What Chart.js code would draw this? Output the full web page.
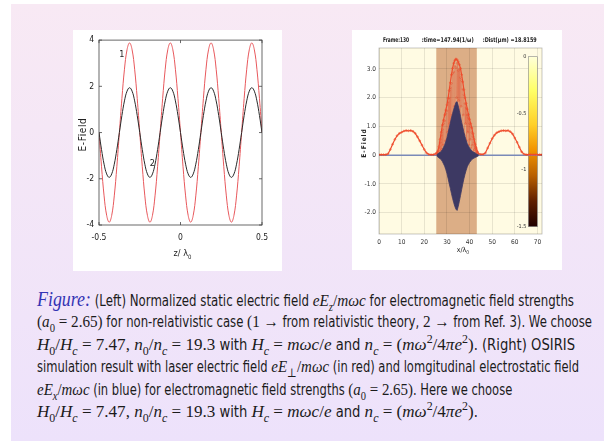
<!DOCTYPE html>
<html>
<head>
<meta charset="utf-8">
<script src="https://cdn.jsdelivr.net/npm/chart.js@4.4.1/dist/chart.umd.min.js"></script>
<style>
html, body { margin: 0; padding: 0; background: #fff; width: 604px; height: 441px; overflow: hidden; }
#slide { position: absolute; left: 11px; top: 4px; width: 593px; height: 437px; background: linear-gradient(#f8e9f4, #ede2fb); }
.panel { position: absolute; background: #fff; }
.panel canvas { position: absolute; left: 0; top: 0; }
#leftPanel { left: 73px; top: 30px; width: 209px; height: 241px; }
#rightPanel { left: 352px; top: 30px; width: 210px; height: 240px; }
.line { position: absolute; left: 37px; height: 20px; line-height: 20px; white-space: nowrap; font-family: 'Liberation Sans Narrow', 'DejaVu Sans Condensed', sans-serif; font-size: 15px; color: #1b1b1b; transform-origin: 0 50%; }
.m { font-family: 'Liberation Serif', 'DejaVu Serif', serif; font-size: 17.5px; }
.fig { font-family: 'Liberation Serif', 'DejaVu Serif', serif; font-style: italic; color: #3434b4; font-size: 20.5px; }
sub, sup { font-size: 70%; line-height: 0; }
</style>
</head>
<body>
<div id="slide"></div>
<div class="panel" id="leftPanel"><canvas id="leftChart" width="209" height="241"></canvas></div>
<div class="panel" id="rightPanel"><canvas id="rightChart" width="210" height="240"></canvas></div>

<div class="line" data-w="537" style="top:289px"><span class="fig">Figure:</span> (Left) Normalized static electric field <span class="m"><i>eE</i><sub><i>z</i></sub>/<i>mωc</i></span> for electromagnetic field strengths</div>
<div class="line" data-w="555" style="top:311px"><span class="m">(<i>a</i><sub>0</sub> = 2.65)</span> for non-relativistic case <span class="m">(1 →</span> from relativistic theory, <span class="m">2 →</span> from Ref. 3). We choose</div>
<div class="line" data-w="538" style="top:334px"><span class="m"><i>H</i><sub>0</sub>/<i>H</i><sub><i>c</i></sub> = 7.47, <i>n</i><sub>0</sub>/<i>n</i><sub><i>c</i></sub> = 19.3</span> with <span class="m"><i>H</i><sub><i>c</i></sub> = <i>mωc</i>/<i>e</i></span> and <span class="m"><i>n</i><sub><i>c</i></sub> = (<i>mω</i><sup>2</sup>/4<i>πe</i><sup>2</sup>)</span>. (Right) OSIRIS</div>
<div class="line" data-w="542" style="top:356px">simulation result with laser electric field <span class="m"><i>eE</i><sub>⊥</sub>/<i>mωc</i></span> (in red) and lomgitudinal electrostatic field</div>
<div class="line" data-ref="3" style="top:379px"><span class="m"><i>eE</i><sub><i>x</i></sub>/<i>mωc</i></span> (in blue) for electromagnetic field strengths <span class="m">(<i>a</i><sub>0</sub> = 2.65)</span>. Here we choose</div>
<div class="line" data-ref="2" style="top:401px"><span class="m"><i>H</i><sub>0</sub>/<i>H</i><sub><i>c</i></sub> = 7.47, <i>n</i><sub>0</sub>/<i>n</i><sub><i>c</i></sub> = 19.3</span> with <span class="m"><i>H</i><sub><i>c</i></sub> = <i>mωc</i>/<i>e</i></span> and <span class="m"><i>n</i><sub><i>c</i></sub> = (<i>mω</i><sup>2</sup>/4<i>πe</i><sup>2</sup>)</span>.</div>

<script>
// left plot: static field, curve 1 (red) and curve 2 (black)
const leftX = [-0.5, -0.4844, -0.4688, -0.4531, -0.4375, -0.4219, -0.4063, -0.3906, -0.375, -0.3594, -0.3438, -0.3281, -0.3125, -0.2969, -0.2813, -0.2656,
  -0.25, -0.2344, -0.2188, -0.2031, -0.1875, -0.1719, -0.1563, -0.1406, -0.125, -0.1094, -0.0938, -0.0781, -0.0625, -0.0469, -0.0313, -0.0156,
  0, 0.0156, 0.0313, 0.0469, 0.0625, 0.0781, 0.0938, 0.1094, 0.125, 0.1406, 0.1563, 0.1719, 0.1875, 0.2031, 0.2188, 0.2344,
  0.25, 0.2656, 0.2813, 0.2969, 0.3125, 0.3281, 0.3438, 0.3594, 0.375, 0.3906, 0.4063, 0.4219, 0.4375, 0.4531, 0.4688, 0.4844, 0.5];
const leftRed = [0, -1.48, -2.74, -3.58, -3.88, -3.58, -2.74, -1.48, 0, 1.48, 2.74, 3.58, 3.88, 3.58, 2.74, 1.48,
  0, -1.48, -2.74, -3.58, -3.88, -3.58, -2.74, -1.48, 0, 1.48, 2.74, 3.58, 3.88, 3.58, 2.74, 1.48,
  0, -1.48, -2.74, -3.58, -3.88, -3.58, -2.74, -1.48, 0, 1.48, 2.74, 3.58, 3.88, 3.58, 2.74, 1.48,
  0, -1.48, -2.74, -3.58, -3.88, -3.58, -2.74, -1.48, 0, 1.48, 2.74, 3.58, 3.88, 3.58, 2.74, 1.48, 0];
const leftBlack = [0, -0.74, -1.37, -1.79, -1.94, -1.79, -1.37, -0.74, 0, 0.74, 1.37, 1.79, 1.94, 1.79, 1.37, 0.74,
  0, -0.74, -1.37, -1.79, -1.94, -1.79, -1.37, -0.74, 0, 0.74, 1.37, 1.79, 1.94, 1.79, 1.37, 0.74,
  0, -0.74, -1.37, -1.79, -1.94, -1.79, -1.37, -0.74, 0, 0.74, 1.37, 1.79, 1.94, 1.79, 1.37, 0.74,
  0, -0.74, -1.37, -1.79, -1.94, -1.79, -1.37, -0.74, 0, 0.74, 1.37, 1.79, 1.94, 1.79, 1.37, 0.74, 0];
const leftXTicks = [-0.5, 0, 0.5];
const leftYTicks = [-4, -2, 0, 2, 4];
const curveLabels = ['1', '2'];
const curveLabelX = [-0.36, -0.173];
const curveLabelY = [3.36, -1.36];

// right plot: OSIRIS snapshot
const redX = [0, 1, 2, 3, 4, 5, 6, 7, 8, 9, 10, 11, 12, 13, 14, 15, 16, 17, 18, 19, 20, 21, 22, 23, 24,
  25, 25.5, 26, 26.5, 27, 27.5, 28, 28.5, 29, 29.5, 30, 30.5, 31, 31.5, 32, 32.5, 33, 33.5, 34, 34.5,
  35, 35.5, 36, 36.5, 37, 37.5, 38, 38.5, 39, 39.5, 40, 40.5, 41, 41.5, 42, 42.5, 43, 43.5, 44,
  45, 46, 47, 48, 49, 50, 51, 52, 53, 54, 55, 56, 57, 58, 59, 60, 61, 62, 63, 64, 65, 66, 67, 68, 69, 70, 71, 72];
const redY = [0.02, 0.02, 0.02, 0.02, 0.05, 0.2, 0.38, 0.55, 0.68, 0.76, 0.8, 0.84, 0.86, 0.85, 0.86, 0.83, 0.76, 0.64, 0.5, 0.35, 0.2, 0.08, 0.03, 0.02, 0.02,
  0.05, 0.08, 0.15, 0.3, 0.55, 0.8, 1.05, 1.22, 1.4, 1.57, 1.75, 1.98, 2.25, 2.52, 2.8, 3.02, 3.2, 3.3, 3.35, 3.32,
  3.25, 3.15, 3.02, 2.8, 2.55, 2.28, 2.0, 1.8, 1.6, 1.42, 1.25, 1.1, 0.95, 0.75, 0.55, 0.38, 0.25, 0.12, 0.05,
  0.03, 0.03, 0.08, 0.25, 0.42, 0.58, 0.7, 0.78, 0.82, 0.85, 0.86, 0.85, 0.86, 0.82, 0.74, 0.6, 0.45, 0.28, 0.12, 0.04, 0.02, 0.02, 0.02, 0.02, 0.02, 0.02, 0.02, 0.02];
const redInnerX = [25.5, 25.75, 26, 26.25, 26.5, 26.75, 27, 27.25, 27.5, 27.75, 28, 28.25, 28.5, 28.75, 29, 29.25, 29.5, 29.75,
  30, 30.25, 30.5, 30.75, 31, 31.25, 31.5, 31.75, 32, 32.25, 32.5, 32.75, 33, 33.25, 33.5, 33.75, 34, 34.25, 34.5, 34.75,
  35, 35.25, 35.5, 35.75, 36, 36.25, 36.5, 36.75, 37, 37.25, 37.5, 37.75, 38, 38.25, 38.5, 38.75, 39, 39.25, 39.5, 39.75,
  40, 40.25, 40.5, 40.75, 41, 41.25, 41.5, 41.75, 42, 42.25, 42.5, 42.75, 43, 43.25, 43.5];
const redInnerY = [0.06, 0.02, 0.12, 0.03, 0.25, 0.06, 0.45, 0.15, 0.7, 0.2, 0.9, 0.35, 1.1, 0.2, 1.2, 0.5, 1.45, 0.3,
  1.55, 0.8, 1.85, 0.4, 2.0, 1.1, 2.35, 0.6, 2.5, 1.4, 2.85, 0.9, 2.9, 1.7, 3.1, 1.2, 3.05, 2.0, 3.2, 1.3,
  2.95, 1.9, 3.0, 1.1, 2.7, 1.7, 2.6, 0.9, 2.3, 1.4, 2.1, 0.7, 1.8, 1.1, 1.65, 0.5, 1.4, 0.8, 1.3, 0.35,
  1.1, 0.55, 1.0, 0.25, 0.8, 0.35, 0.65, 0.15, 0.45, 0.2, 0.3, 0.08, 0.18, 0.05, 0.1];
const blueX = [25.5, 26, 26.5, 27, 27.5, 28, 28.5, 29, 29.5, 30, 30.5, 31, 31.5, 32, 32.5, 33, 33.5, 34, 34.5,
  35, 35.5, 36, 36.5, 37, 37.5, 38, 38.5, 39, 39.5, 40, 40.5, 41, 41.5, 42, 42.5, 43, 43.5, 44];
const blueUpper = [0.02, 0.05, 0.08, 0.1, 0.14, 0.2, 0.28, 0.36, 0.48, 0.6, 0.78, 0.95, 1.12, 1.3, 1.45, 1.6, 1.72, 1.84, 1.86,
  1.72, 1.55, 1.35, 1.15, 0.98, 0.8, 0.65, 0.52, 0.4, 0.32, 0.25, 0.2, 0.15, 0.12, 0.1, 0.08, 0.05, 0.03, 0.02];
const blueLower = [-0.03, -0.06, -0.09, -0.12, -0.16, -0.22, -0.3, -0.38, -0.5, -0.63, -0.8, -0.98, -1.15, -1.33, -1.5, -1.65, -1.78, -1.88, -1.92,
  -1.78, -1.6, -1.4, -1.2, -1.0, -0.82, -0.66, -0.52, -0.4, -0.32, -0.25, -0.2, -0.15, -0.12, -0.1, -0.08, -0.06, -0.04, -0.02];
const blueBaseX = [0, 72];
const blueBaseY = [0, 0];
const rightXTicks = [0, 10, 20, 30, 40, 50, 60, 70];
const rightYTicks = [-2, -1, 0, 1, 2, 3];
const bandRange = [25.3, 43.2];
const colorbarTicks = [0, -0.5, -1, -1.5];
const colorbarLabels = ['0', '-0.5', '-1', '-1.5'];
const titleParts = ['Frame:130', ':time=147.94(1/ω)', ':Dist(μm) =18.8159'];

const narrow = "'Liberation Sans Narrow','DejaVu Sans Condensed',Arial,sans-serif";
const pts = (xs, ys) => xs.map((x, i) => ({ x: x, y: ys[i] }));

// stretch caption lines to their width on the slide; the last two reuse the scale of a matching line
const lines = Array.from(document.querySelectorAll('.line'));
const scales = lines.map(el => el.dataset.w ? Number(el.dataset.w) / el.getBoundingClientRect().width : null);
lines.forEach((el, i) => {
    const s = scales[i] !== null ? scales[i] : scales[Number(el.dataset.ref)];
    el.style.transform = 'scaleX(' + s + ')';
});

const leftDecor = {
    id: 'leftDecor',
    afterDraw(chart) {
        const { ctx, chartArea: a, scales: { x, y } } = chart;
        ctx.save();
        ctx.strokeStyle = '#444';
        ctx.lineWidth = 0.8;
        ctx.strokeRect(a.left, a.top, a.right - a.left, a.bottom - a.top);
        ctx.beginPath();
        leftXTicks.forEach(v => {
            const px = x.getPixelForValue(v);
            ctx.moveTo(px, a.bottom); ctx.lineTo(px, a.bottom - 3);
            ctx.moveTo(px, a.top); ctx.lineTo(px, a.top + 3);
        });
        leftYTicks.forEach(v => {
            const py = y.getPixelForValue(v);
            ctx.moveTo(a.left, py); ctx.lineTo(a.left + 3, py);
            ctx.moveTo(a.right, py); ctx.lineTo(a.right - 3, py);
        });
        ctx.stroke();

        ctx.fillStyle = '#222';
        ctx.textAlign = 'center';
        ctx.textBaseline = 'middle';
        ctx.font = '9px ' + narrow;
        curveLabels.forEach((t, i) => {
            ctx.fillText(t, x.getPixelForValue(curveLabelX[i]), y.getPixelForValue(curveLabelY[i]));
        });

        // x title  z/ λ0
        ctx.font = '9px ' + narrow;
        const main = 'z/ λ';
        const wm = ctx.measureText(main).width;
        ctx.font = '6px ' + narrow;
        const ws = ctx.measureText('0').width;
        const cx = (a.left + a.right) / 2 + 2;
        ctx.textAlign = 'left';
        ctx.font = '9px ' + narrow;
        ctx.fillText(main, cx - (wm + ws) / 2, a.bottom + 28.5);
        ctx.font = '6px ' + narrow;
        ctx.fillText('0', cx - (wm + ws) / 2 + wm, a.bottom + 32);

        // y title
        ctx.translate(10, (a.top + a.bottom) / 2 + 2);
        ctx.rotate(-Math.PI / 2);
        ctx.textAlign = 'center';
        ctx.font = '10px ' + narrow;
        ctx.letterSpacing = '0.6px';
        ctx.fillText('E-Field', 0, 0);
        ctx.restore();
    }
};

new Chart(document.getElementById('leftChart'), {
    type: 'line',
    data: {
        datasets: [
            { data: pts(leftX, leftBlack), borderColor: '#2a2a2a', borderWidth: 1, pointRadius: 0, tension: 0.4 },
            { data: pts(leftX, leftRed), borderColor: '#e8585c', borderWidth: 1, pointRadius: 0, tension: 0.4 }
        ]
    },
    options: {
        responsive: false,
        animation: false,
        layout: { padding: { top: 8, right: 20, left: 0, bottom: 0 } },
        plugins: { legend: { display: false }, tooltip: { enabled: false } },
        scales: {
            x: {
                type: 'linear', min: -0.5, max: 0.5,
                afterBuildTicks: s => { s.ticks = leftXTicks.map(v => ({ value: v })); },
                afterFit: s => { s.height = 46; },
                ticks: { font: { family: narrow, size: 8.5 }, color: '#222', padding: 8, maxRotation: 0, callback: v => String(v) },
                grid: { display: false, drawTicks: false },
                border: { display: false }
            },
            y: {
                type: 'linear', min: -4, max: 4,
                afterBuildTicks: s => { s.ticks = leftYTicks.map(v => ({ value: v })); },
                afterFit: s => { s.width = 26; },
                ticks: { font: { family: narrow, size: 8.5 }, color: '#222', padding: 5, callback: v => String(v) },
                grid: { display: false, drawTicks: false },
                border: { display: false }
            }
        }
    },
    plugins: [leftDecor]
});

const rightDecor = {
    id: 'rightDecor',
    beforeDraw(chart) {
        const { ctx, chartArea: a, scales: { x } } = chart;
        ctx.save();
        ctx.fillStyle = '#fffbe3';
        ctx.fillRect(a.left, a.top, a.right - a.left, a.bottom - a.top);
        const b0 = x.getPixelForValue(bandRange[0]);
        const b1 = x.getPixelForValue(bandRange[1]);
        ctx.fillStyle = '#dcae86';
        ctx.fillRect(b0, a.top, b1 - b0, a.bottom - a.top);
        ctx.restore();
    },
    beforeDatasetsDraw(chart) {
        const { ctx, chartArea: a } = chart;
        const left = a.right - 13.7, w = 9, top = a.top + 8.7, h = a.bottom - 7.3 - top;
        ctx.save();
        const g = ctx.createLinearGradient(0, top, 0, top + h);
        g.addColorStop(0, '#ffffd8');
        g.addColorStop(0.2, '#ffff66');
        g.addColorStop(0.4, '#ffd028');
        g.addColorStop(0.55, '#f29400');
        g.addColorStop(0.7, '#b86000');
        g.addColorStop(0.85, '#602000');
        g.addColorStop(1, '#200000');
        ctx.fillStyle = g;
        ctx.fillRect(left, top, w, h);
        ctx.strokeStyle = '#888';
        ctx.lineWidth = 0.6;
        ctx.strokeRect(left, top, w, h);
        ctx.fillStyle = '#333';
        ctx.font = '5.5px ' + narrow;
        ctx.textAlign = 'right';
        ctx.textBaseline = 'middle';
        colorbarTicks.forEach((v, i) => {
            ctx.fillText(colorbarLabels[i], left - 2, top + (-v / 1.5) * h);
        });
        ctx.restore();
    },
    afterDraw(chart) {
        const { ctx, chartArea: a } = chart;
        ctx.save();
        ctx.strokeStyle = 'rgba(0,0,0,0.28)';
        ctx.lineWidth = 0.8;
        ctx.strokeRect(a.left, a.top, a.right - a.left, a.bottom - a.top);

        ctx.fillStyle = '#222';
        ctx.textBaseline = 'middle';
        ctx.textAlign = 'left';
        ctx.font = 'bold 6.5px ' + narrow;
        ctx.fillText(titleParts[0], 31, 10, 26);
        ctx.fillText(titleParts[1], 69.7, 10, 52);
        ctx.fillText(titleParts[2], 130.7, 10, 54);

        // x title  x/λ0
        ctx.font = '7px ' + narrow;
        const wm = ctx.measureText('x/λ').width;
        const cx = 111;
        ctx.fillText('x/λ', cx - (wm + 3) / 2, a.bottom + 16);
        ctx.font = '5px ' + narrow;
        ctx.fillText('0', cx - (wm + 3) / 2 + wm, a.bottom + 18.5);

        ctx.translate(12, (a.top + a.bottom) / 2 + 2);
        ctx.rotate(-Math.PI / 2);
        ctx.textAlign = 'center';
        ctx.font = 'bold 6.5px ' + narrow;
        ctx.letterSpacing = '1px';
        ctx.fillText('E-Field', 0, 0);
        ctx.restore();
    }
};

new Chart(document.getElementById('rightChart'), {
    type: 'line',
    data: {
        datasets: [
            { data: pts(blueX, blueUpper), borderColor: '#3d3963', backgroundColor: '#3d3963', borderWidth: 0.8, pointRadius: 0, fill: '+1', tension: 0 },
            { data: pts(blueX, blueLower), borderColor: '#3d3963', borderWidth: 0.8, pointRadius: 0, fill: false, tension: 0 },
            { data: pts(redX, redY), borderColor: '#ef4c2c', borderWidth: 1.2, pointRadius: 0.9, pointBorderWidth: 0.6, pointBackgroundColor: 'rgba(0,0,0,0)', pointBorderColor: '#ef4c2c', fill: false, tension: 0 },
            { data: pts(redInnerX, redInnerY), borderColor: 'rgba(232,70,40,0.45)', borderWidth: 0.4, pointRadius: 0.9, pointBorderWidth: 0.5, pointBackgroundColor: 'rgba(0,0,0,0)', pointBorderColor: 'rgba(232,70,40,0.75)', fill: false, tension: 0 },
            { data: pts(blueBaseX, blueBaseY), borderColor: '#7a8ab8', borderWidth: 1.4, pointRadius: 0, fill: false }
        ]
    },
    options: {
        responsive: false,
        animation: false,
        layout: { padding: { top: 18, right: 20, left: 0, bottom: 0 } },
        plugins: { legend: { display: false }, tooltip: { enabled: false } },
        scales: {
            x: {
                type: 'linear', min: 0, max: 72,
                afterBuildTicks: s => { s.ticks = rightXTicks.map(v => ({ value: v })); },
                afterFit: s => { s.height = 36; },
                ticks: { font: { family: narrow, size: 6.5 }, color: '#333', padding: 4, maxRotation: 0, callback: v => String(v) },
                grid: { color: 'rgba(0,0,0,0.09)', drawTicks: false },
                border: { display: false }
            },
            y: {
                type: 'linear', min: -2.74, max: 3.73,
                afterBuildTicks: s => { s.ticks = rightYTicks.map(v => ({ value: v })); },
                afterFit: s => { s.width = 27; },
                ticks: { font: { family: narrow, size: 6.5 }, color: '#333', padding: 3, callback: v => v === 0 ? '0' : v.toFixed(1) },
                grid: { color: 'rgba(0,0,0,0.09)', drawTicks: false },
                border: { display: false }
            }
        }
    },
    plugins: [rightDecor]
});
</script>
</body>
</html>
